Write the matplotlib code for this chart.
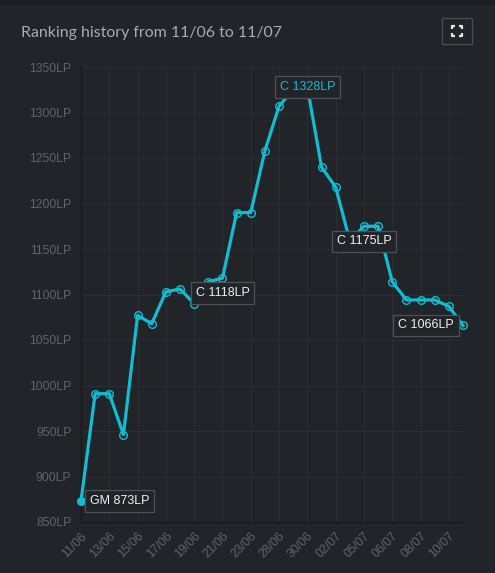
import matplotlib
matplotlib.use("Agg")
import matplotlib.pyplot as plt
from matplotlib.patches import Rectangle
from matplotlib.lines import Line2D

# ---- data ----
dates = ["11/06", "12/06", "13/06", "14/06", "15/06", "16/06", "17/06", "18/06",
         "19/06", "20/06", "21/06", "22/06", "23/06", "25/06", "28/06", "29/06",
         "30/06", "01/07", "02/07", "04/07", "05/07", "05/07", "06/07", "07/07",
         "08/07", "09/07", "10/07", "11/07"]
lp = [873, 991, 991, 946, 1077, 1068, 1103, 1106,
      1090, 1114, 1118, 1190, 1190, 1258, 1307, 1325,
      1328, 1240, 1218, 1159, 1175, 1175, 1114, 1094,
      1094, 1094, 1087, 1066]
y_ticks = [850, 900, 950, 1000, 1050, 1100, 1150, 1200, 1250, 1300, 1350]
title = "Ranking history from 11/06 to 11/07"
# annotations: (index, text, placement)
notes = [(0, "GM 873LP", "right"), (10, "C 1118LP", "below"),
         (16, "C 1328LP", "center"), (20, "C 1175LP", "below"),
         (27, "C 1066LP", "left")]

BG = "#212428"
GRID = "#2b2e33"
CYAN = "#13bcd3"
TICK = "#606368"

W, H = 495, 573
fig = plt.figure(figsize=(W / 100, H / 100), dpi=100, facecolor=BG)
fig.add_artist(Rectangle((0, 1 - 5 / H), 1, 5 / H, transform=fig.transFigure,
                         facecolor="#1b1d21", edgecolor="none"))

L, R, T, B = 81, 463, 67, 522
ax = fig.add_axes([L / W, 1 - B / H, (R - L) / W, (B - T) / H])
ax.set_facecolor(BG)

x = list(range(len(lp)))
ax.plot(x, lp, color=CYAN, lw=2.3, zorder=3, solid_joinstyle="round", clip_on=False)
ax.plot(x[1:], lp[1:], ls="none", marker="o", ms=5.5, mfc="none", mec=CYAN,
        mew=1.0, zorder=4, clip_on=False)
ax.plot(x[:1], lp[:1], ls="none", marker="o", ms=5.5, mfc=CYAN, mec=CYAN, zorder=4,
        clip_on=False)

ax.set_xlim(0, len(lp) - 1)
ax.set_ylim(850, 1350)
ax.set_yticks(y_ticks)
ax.set_yticklabels([f"{v}LP" for v in y_ticks])
xt = list(range(0, len(dates), 2))
ax.set_xticks(xt)
ax.set_xticklabels([dates[i] for i in xt], rotation=45, ha="right", va="top",
                   rotation_mode="anchor")
for lab in ax.get_xticklabels() + ax.get_yticklabels():
    lab.set_family("Liberation Sans")
    lab.set_fontsize(8.8)
    lab.set_color(TICK)
ax.tick_params(axis="y", length=0, pad=7)
ax.tick_params(axis="x", length=0, pad=6)
ax.grid(True, color=GRID, lw=0.8, zorder=0)
for s in ["top", "right"]:
    ax.spines[s].set_visible(False)
for s in ["left", "bottom"]:
    ax.spines[s].set_color("#17191c")
    ax.spines[s].set_linewidth(1.0)

for i, txt, where in notes:
    col = CYAN if where == "center" else "#f0f0f0"
    box = dict(boxstyle="square,pad=0.38", fc=BG, ec="#4d5055", lw=0.9)
    if where == "right":
        off, ha, va = (9, 0), "left", "center"
    elif where == "left":
        off, ha, va = (-9, 0), "right", "center"
    elif where == "below":
        off, ha, va = (0, -9), "center", "top"
    else:
        off, ha, va = (0, 0), "center", "center"
    ax.annotate(txt, (i, lp[i]), xytext=off, textcoords="offset pixels",
                ha=ha, va=va, fontsize=9.0, family="Liberation Sans",
                color=col, bbox=box, zorder=6)

fig.text(21 / W, 1 - 33 / H, title, family="Lato", fontsize=11.4,
         color="#a9abae", ha="left", va="center")

# fullscreen icon
fig.add_artist(Rectangle((442 / W, 1 - 44 / H), 30 / W, 26 / H,
                         transform=fig.transFigure, fc="none", ec="#4a4d52", lw=0.9))
cx0, cx1, cy0, cy1, d = 452, 462, 26, 36, 3
for (px, py, sx, sy) in [(cx0, cy0, 1, 1), (cx1, cy0, -1, 1), (cx0, cy1, 1, -1), (cx1, cy1, -1, -1)]:
    fig.add_artist(Line2D([(px + sx * d) / W, px / W, px / W],
                          [1 - py / H, 1 - py / H, 1 - (py + sy * d) / H],
                          transform=fig.transFigure, color="#e8e8e8", lw=1.6,
                          solid_capstyle="butt"))

fig.savefig("out.png", dpi=100, facecolor=BG)
